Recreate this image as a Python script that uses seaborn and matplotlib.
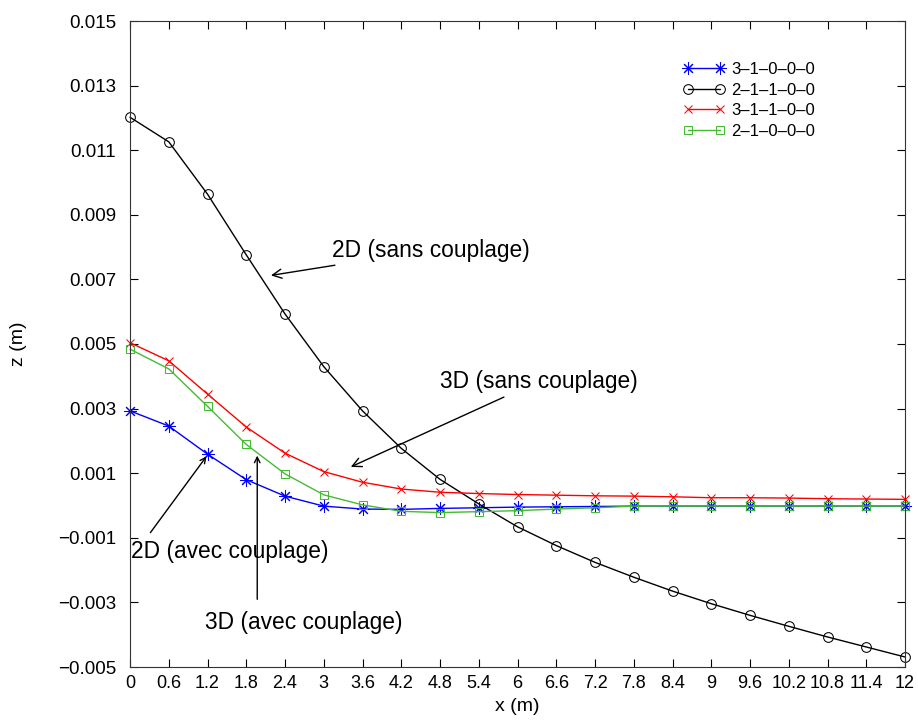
import numpy as np
import matplotlib
matplotlib.use('Agg')
import matplotlib.pyplot as plt
import seaborn as sns

x_m = [0, 0.6, 1.2, 1.8, 2.4, 3.0, 3.6, 4.2, 4.8, 5.4, 6.0,
       6.6, 7.2, 7.8, 8.4, 9.0, 9.6, 10.2, 10.8, 11.4, 12.0]

# 3-1-0-0-0 (blue)
z_blue = [0.00293, 0.00246, 0.00159, 0.00080, 0.00029, -0.00002, -0.00011, -0.00012,
          -0.00009, -0.00007, -0.00005, -0.00004, -0.00003, -0.00002, -0.00002, -0.00002,
          -0.00002, -0.00002, -0.00002, -0.00002, -0.00002]
# 2-1-1-0-0 (black)
z_black = [0.01202, 0.01126, 0.00964, 0.00776, 0.00593, 0.00430, 0.00293, 0.00177,
           0.00081, 0.00005, -0.00066, -0.00124, -0.00176, -0.00222, -0.00265, -0.00304,
           -0.00340, -0.00374, -0.00407, -0.00438, -0.00469]
# 3-1-1-0-0 (red)
z_red = [0.00504, 0.00448, 0.00345, 0.00243, 0.00162, 0.00105, 0.00072, 0.00051,
         0.00041, 0.00037, 0.00034, 0.00032, 0.00030, 0.00029, 0.00027, 0.00024,
         0.00024, 0.00023, 0.00021, 0.00020, 0.00019]
# 2-1-0-0-0 (green)
z_green = [0.00484, 0.00423, 0.00307, 0.00189, 0.00098, 0.00033, 0.00002, -0.00018,
           -0.00022, -0.00019, -0.00016, -0.00011, -0.00007, -0.00002, -0.00002, -0.00002,
           -0.00002, -0.00002, -0.00002, -0.00002, -0.00002]

labels = ['3\u20131\u20130\u20130\u20130', '2\u20131\u20131\u20130\u20130',
          '3\u20131\u20131\u20130\u20130', '2\u20131\u20130\u20130\u20130']

sns.set_style('ticks')
plt.rcParams['font.family'] = ['Liberation Sans', 'DejaVu Sans']
plt.rcParams['xtick.direction'] = 'in'
plt.rcParams['ytick.direction'] = 'in'
plt.rcParams['text.color'] = 'black'
plt.rcParams['axes.labelcolor'] = 'black'
plt.rcParams['xtick.color'] = 'black'
plt.rcParams['ytick.color'] = 'black'
plt.rcParams['axes.edgecolor'] = '#333333'

fig = plt.figure(figsize=(9.18, 7.22), dpi=100)
ax = fig.add_axes([130 / 918, 1 - 667 / 722, 775 / 918, 646 / 722])

sns.lineplot(x=x_m, y=z_blue, ax=ax, color='#0000ff', lw=1, marker=(8, 2, 0),
             ms=9, mec='#0000ff', label=labels[0], clip_on=False)
sns.lineplot(x=x_m, y=z_black, ax=ax, color='black', lw=1, marker='o', ms=7,
             mfc='none', mec='black', label=labels[1], clip_on=False)
sns.lineplot(x=x_m, y=z_red, ax=ax, color='#ff0000', lw=1, marker='x', ms=6,
             mec='#ff0000', label=labels[2], clip_on=False)
sns.lineplot(x=x_m, y=z_green, ax=ax, color='#44bb33', lw=1, marker='s', ms=6,
             mfc='none', mec='#44bb33', label=labels[3], clip_on=False)

ax.set_xlim(0, 12)
ax.set_ylim(-0.005, 0.015)
ax.set_xticks(x_m)
ax.set_xticklabels([f'{round(v, 1):g}' for v in x_m], fontsize=13)
yt = np.arange(-0.005, 0.0151, 0.002)
ax.set_yticks(yt)
ax.set_yticklabels([f'{v:.3f}'.replace('-', '\u2212') for v in yt], fontsize=13.5)
ax.tick_params(top=True, right=True, length=6, width=0.8)
ax.tick_params(axis='y', pad=10)
ax.tick_params(axis='x', pad=6)
ax.set_xlabel('x (m)', fontsize=14, labelpad=4)
ax.set_ylabel('z (m)', fontsize=14, labelpad=22)

arrow = dict(arrowstyle='->', color='black', lw=1)
ax.annotate('2D (sans couplage)', xy=(2.14, 0.00711), xytext=(3.12, 0.00791),
            fontsize=16.4, va='center', arrowprops=arrow)
ax.annotate('3D (sans couplage)', xy=(3.38, 0.00116), xytext=(4.80, 0.00385),
            fontsize=16.4, va='center', arrowprops=arrow)
ax.annotate('2D (avec couplage)', xy=(1.21, 0.00159), xytext=(0.02, -0.00141),
            fontsize=16.4, va='center')
ax.annotate('', xy=(1.21, 0.00159), xytext=(0.29, -0.00091), arrowprops=arrow)
ax.annotate('3D (avec couplage)', xy=(1.97, 0.00163), xytext=(1.16, -0.00361),
            fontsize=16.4, va='center')
ax.annotate('', xy=(1.97, 0.00163), xytext=(1.97, -0.00299), arrowprops=arrow)

ax.legend(loc='upper left', bbox_to_anchor=(0.694, 0.96), frameon=False,
          numpoints=2, fontsize=12, handlelength=2.5, labelspacing=0.34,
          handletextpad=0.4)

fig.savefig('out.png', dpi=100)
